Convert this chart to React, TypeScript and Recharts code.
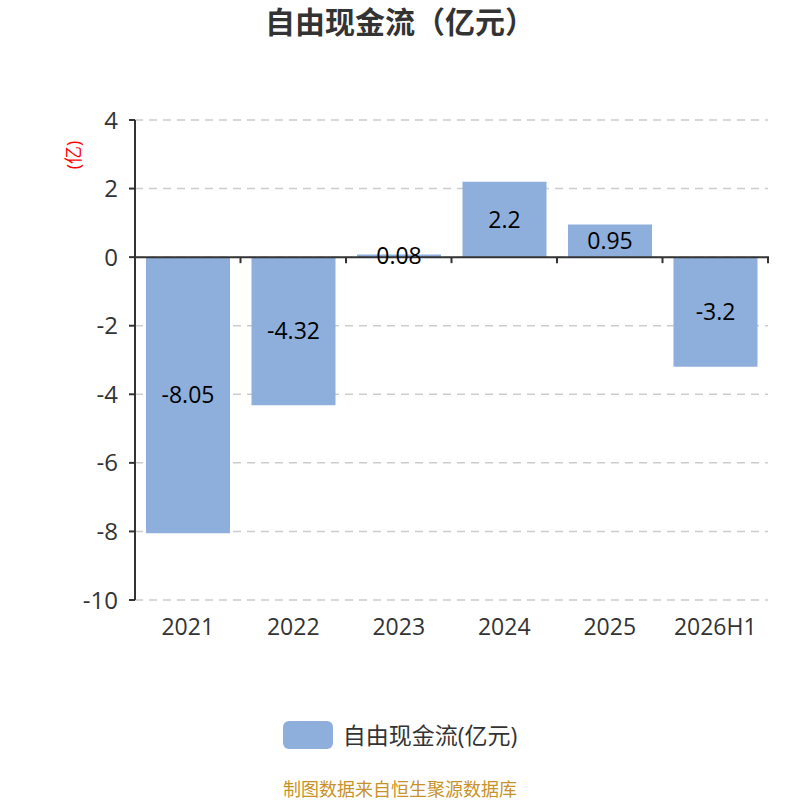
import { BarChart, Bar, XAxis, YAxis, CartesianGrid, ReferenceLine, LabelList } from "recharts";

const years = ["2021", "2022", "2023", "2024", "2025", "2026H1"];
const cashFlow = [-8.05, -4.32, 0.08, 2.2, 0.95, -3.2];
const yTicks = [-10, -8, -6, -4, -2, 0, 2, 4];

const data = years.map((year, i) => ({ year, value: cashFlow[i] }));

const FONT = '"Open Sans", "Noto Sans CJK SC", sans-serif';
const BAR = "#8eaedb";

// zero line with ticks on the category boundaries
const ZeroAxis = (props: any) => {
  const { x1, y1, x2 } = props;
  const step = (x2 - x1) / years.length;
  const marks = [];
  for (let i = 1; i <= years.length; i++) {
    const x = x1 + step * i;
    marks.push(<line key={i} x1={x} y1={y1} x2={x} y2={y1 + 6} stroke="#333" strokeWidth={2} />);
  }
  return (
    <g>
      <line x1={x1} y1={y1} x2={x2 + 1} y2={y1} stroke="#333" strokeWidth={2} />
      {marks}
    </g>
  );
};

const UnitLabel = (props: any) => {
  const { viewBox } = props;
  const x = viewBox.x + 73;
  const y = viewBox.y + 35;
  return (
    <text x={x} y={y} fill="#ff0000" fontSize={18} textAnchor="middle" dominantBaseline="central" transform={`rotate(-90 ${x} ${y})`}>
      (亿)
    </text>
  );
};

export default function App() {
  return (
    <div style={{ position: "absolute", left: 0, top: 0, width: 800, height: 800, background: "#fff", fontFamily: FONT }}>
      <div style={{ position: "absolute", top: 2, width: 800, textAlign: "center", fontSize: 30, lineHeight: "40px", fontWeight: "bold", color: "#333" }}>
        自由现金流（亿元）
      </div>
      <BarChart width={800} height={800} data={data} margin={{ top: 120, right: 32, left: 0, bottom: 170 }}>
        <CartesianGrid vertical={false} stroke="#ccc" strokeDasharray="8 6" strokeWidth={1.5} />
        <XAxis
          dataKey="year"
          height={30}
          axisLine={false}
          tickLine={false}
          interval={0}
          tick={{ fill: "#333", fontSize: 23, dy: 11 }}
        />
        <YAxis
          width={135}
          domain={[-10, 4]}
          ticks={yTicks}
          interval={0}
          axisLine={{ stroke: "#333", strokeWidth: 2 }}
          tickLine={{ stroke: "#333", strokeWidth: 2 }}
          tickSize={6}
          tickMargin={11}
          tick={{ fill: "#333", fontSize: 24 }}
          label={<UnitLabel />}
        />
        <Bar dataKey="value" fill={BAR} barSize={84} isAnimationActive={false}>
          <LabelList dataKey="value" position="center" fill="#000" fontSize={23} />
        </Bar>
        <ReferenceLine y={0} shape={<ZeroAxis />} />
      </BarChart>
      <div style={{ position: "absolute", top: 721, width: 800, display: "flex", justifyContent: "center", alignItems: "center" }}>
        <div style={{ width: 50, height: 28, borderRadius: 6, background: BAR, marginRight: 10 }} />
        <span style={{ fontSize: 23, lineHeight: "28px", color: "#333" }}>自由现金流(亿元)</span>
      </div>
      <div style={{ position: "absolute", top: 777, width: 800, textAlign: "center", fontSize: 18, lineHeight: "24px", color: "#c8922a" }}>
        制图数据来自恒生聚源数据库
      </div>
    </div>
  );
}
